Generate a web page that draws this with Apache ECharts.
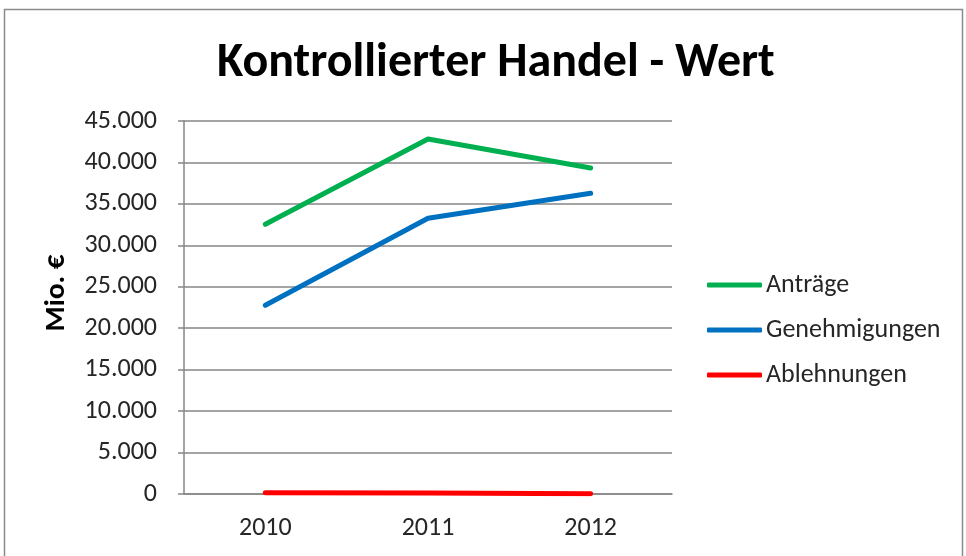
<!DOCTYPE html>
<html>
<head>
<meta charset="utf-8">
<script src="https://cdn.jsdelivr.net/npm/echarts@6/dist/echarts.min.js"></script>
<style>html,body{margin:0;padding:0;background:#fff}#c{width:966px;height:556px}</style>
</head>
<body>
<div id="c"></div>
<script>
const categories = ['2010', '2011', '2012'];
const antraege = [32540, 42830, 39330];
const genehmigungen = [22770, 33260, 36280];
const ablehnungen = [150, 130, 40];
const seriesNames = ['Anträge', 'Genehmigungen', 'Ablehnungen'];
const yAxisTitle = 'Mio. €';

const FONT = 'Carlito, "Liberation Sans Narrow", "Liberation Sans", sans-serif';
const chart = echarts.init(document.getElementById('c'));
const fmt = v => v === 0 ? '0' : v.toLocaleString('de-DE');

chart.setOption({
  animation: false,
  backgroundColor: '#fff',
  graphic: [{
    type: 'rect', shape: { x: 4.5, y: 9.5, width: 958, height: 560 },
    style: { fill: 'none', stroke: '#8a8a8a', lineWidth: 1.5 }, silent: true
  }, {
    type: 'text', x: 57, y: 293, rotation: Math.PI / 2, silent: true,
    style: { text: yAxisTitle, fontFamily: FONT, fontWeight: 'bold', fontSize: 29, fill: '#000',
      align: 'center', verticalAlign: 'middle' }
  }],
  title: {
    text: 'Kontrollierter Handel - Wert', left: 212, top: 35,
    textStyle: { fontFamily: FONT, fontWeight: 'bold', fontSize: 48, color: '#000' }
  },
  grid: { left: 184, right: 294, top: 121, bottom: 62, containLabel: false },
  legend: {
    orient: 'vertical', left: 702, top: 267, itemWidth: 55, itemHeight: 5, itemGap: 19,
    icon: 'roundRect',
    textStyle: { fontFamily: FONT, fontSize: 26, color: '#262626', lineHeight: 26, padding: [0,0,0,-1] },
    data: seriesNames
  },
  xAxis: {
    type: 'category', data: categories, boundaryGap: true,
    axisLine: { lineStyle: { color: '#868686', width: 1.5 } },
    axisTick: { show: false },
    axisLabel: { fontFamily: FONT, fontSize: 26, color: '#262626', margin: 21 }
  },
  yAxis: {
    type: 'value', min: 0, max: 45000, interval: 5000,
    axisLine: { show: true, lineStyle: { color: '#868686', width: 1.5 } },
    axisTick: { show: true, length: 6, inside: false, lineStyle: { color: '#868686', width: 1.5 } },
    splitLine: { lineStyle: { color: '#868686', width: 1.5 } },
    axisLabel: { fontFamily: FONT, fontSize: 26, color: '#262626', margin: 27, formatter: fmt }
  },
  series: [
    { name: seriesNames[0], type: 'line', data: antraege, symbol: 'none', color: '#00B050',
      lineStyle: { width: 5, color: '#00B050', cap: 'round', join: 'round' } },
    { name: seriesNames[1], type: 'line', data: genehmigungen, symbol: 'none', color: '#0070C0',
      lineStyle: { width: 5, color: '#0070C0', cap: 'round', join: 'round' } },
    { name: seriesNames[2], type: 'line', data: ablehnungen, symbol: 'none', color: '#FF0000',
      lineStyle: { width: 5, color: '#FF0000', cap: 'round', join: 'round' } }
  ]
});
</script>
</body>
</html>
